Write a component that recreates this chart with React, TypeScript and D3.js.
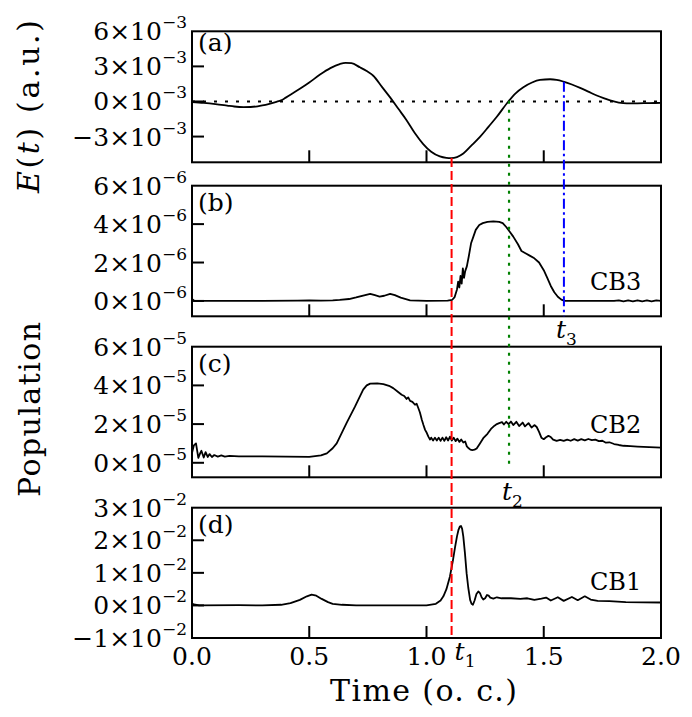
import React from "react";
import * as d3 from "d3";

// ---- data ----
const timeTicks = [0, 0.5, 1.0, 1.5, 2.0];
const timeTickLabels = ["0.0", "0.5", "1.0", "1.5", "2.0"];

const fieldTicks = [-3, 0, 3, 6]; // x10^-3
const cb3Ticks = [0, 2, 4, 6]; // x10^-6
const cb2Ticks = [0, 2, 4, 6]; // x10^-5
const cb1Ticks = [-1, 0, 1, 2, 3]; // x10^-2

// E(t) in units of 1e-3 a.u.
const field: [number, number][] = [
  [0, -0.05], [0.05, -0.12], [0.1, -0.22], [0.15, -0.35], [0.18, -0.43], [0.22, -0.48], [0.25, -0.47],
  [0.28, -0.41], [0.3, -0.34], [0.33, -0.2], [0.36, -0.03], [0.38, 0.1], [0.4, 0.33], [0.43, 0.7],
  [0.46, 1.08], [0.5, 1.62], [0.546, 2.3], [0.59, 2.85], [0.63, 3.2], [0.655, 3.3], [0.68, 3.27],
  [0.716, 2.92], [0.745, 2.6], [0.773, 2.2], [0.81, 1.25], [0.844, 0.37], [0.88, -0.63], [0.915, -1.6],
  [0.95, -2.7], [0.986, -3.64], [1.02, -4.3], [1.057, -4.7], [1.085, -4.82], [1.105, -4.84],
  [1.13, -4.75], [1.157, -4.45], [1.19, -3.8], [1.228, -3.03], [1.265, -2.15], [1.299, -1.33],
  [1.349, 0], [1.38, 0.7], [1.413, 1.22], [1.45, 1.62], [1.484, 1.84], [1.527, 1.9], [1.555, 1.85],
  [1.584, 1.7], [1.62, 1.45], [1.655, 1.16], [1.69, 0.84], [1.726, 0.51], [1.755, 0.28], [1.783, 0.085],
  [1.82, -0.1], [1.854, -0.17], [1.9, -0.16], [1.95, -0.14], [2.0, -0.12],
];

// CB3 population in units of 1e-6
const cb3: [number, number][] = [
  [0, 0.02], [0.005, 0.06], [0.01, 0.0], [0.3, 0.0], [0.45, 0.02], [0.5, 0.03], [0.55, 0.02], [0.6, 0.03],
  [0.63, 0.05], [0.67, 0.1], [0.7, 0.18], [0.73, 0.28], [0.76, 0.37], [0.78, 0.3], [0.8, 0.23],
  [0.82, 0.27], [0.845, 0.37], [0.865, 0.3], [0.89, 0.17], [0.93, 0.03], [1.0, 0.0], [1.09, 0.02],
  [1.11, 0.06], [1.12, 0.2], [1.13, 0.6], [1.135, 1.0], [1.14, 0.7], [1.145, 1.3], [1.15, 0.9],
  [1.155, 1.7], [1.16, 1.2], [1.165, 1.55], [1.172, 1.8], [1.18, 2.3], [1.19, 3.0], [1.2, 3.35],
  [1.21, 3.7], [1.225, 3.95], [1.24, 4.05], [1.26, 4.12], [1.285, 4.14], [1.31, 4.12], [1.325, 4.05],
  [1.34, 3.85], [1.355, 3.6], [1.37, 3.35], [1.39, 2.95], [1.405, 2.6], [1.42, 2.5], [1.44, 2.36],
  [1.46, 2.22], [1.48, 2.0], [1.5, 1.6], [1.515, 1.2], [1.53, 0.78], [1.545, 0.45], [1.56, 0.22],
  [1.575, 0.07], [1.59, 0.0], [1.8, 0.0], [1.82, 0.03], [1.84, -0.02], [1.86, 0.03], [1.88, -0.02],
  [1.9, 0.03], [1.92, -0.02], [1.94, 0.03], [1.96, -0.02], [1.98, 0.03], [2.0, 0.0],
];

// CB2 population in units of 1e-5
const cb2: [number, number][] = [
  [0, 0.5], [0.008, 0.9], [0.017, 1.0], [0.027, 0.25], [0.035, 0.5], [0.04, 0.62], [0.05, 0.27],
  [0.058, 0.55], [0.067, 0.3], [0.075, 0.45], [0.085, 0.3], [0.095, 0.4], [0.11, 0.32], [0.125, 0.38],
  [0.14, 0.32], [0.16, 0.36], [0.2, 0.33], [0.3, 0.33], [0.4, 0.32], [0.5, 0.31], [0.55, 0.38],
  [0.575, 0.49], [0.6, 0.75], [0.617, 1.0], [0.631, 1.35], [0.66, 2.08], [0.695, 2.9], [0.73, 3.78],
  [0.745, 4.0], [0.76, 4.09], [0.79, 4.1], [0.816, 4.07], [0.84, 3.98], [0.858, 3.86], [0.875, 3.7],
  [0.894, 3.52], [0.905, 3.45], [0.915, 3.3], [0.922, 3.38], [0.93, 3.2], [0.94, 3.15], [0.951, 3.0],
  [0.958, 3.05], [0.965, 2.83], [0.972, 2.6], [0.98, 2.22], [0.987, 1.95], [0.994, 1.7], [1.001, 1.55],
  [1.008, 1.35], [1.015, 1.2], [1.02, 1.3], [1.028, 1.15], [1.036, 1.3], [1.044, 1.15], [1.052, 1.3],
  [1.06, 1.13], [1.068, 1.3], [1.076, 1.13], [1.084, 1.32], [1.092, 1.15], [1.1, 1.35], [1.108, 1.15],
  [1.116, 1.3], [1.124, 1.12], [1.132, 1.25], [1.14, 1.08], [1.148, 1.2], [1.157, 1.05], [1.165, 1.1],
  [1.172, 0.85], [1.18, 0.75], [1.187, 0.68], [1.195, 0.66], [1.205, 0.68], [1.214, 0.74],
  [1.228, 1.0], [1.242, 1.27], [1.26, 1.5], [1.275, 1.75], [1.29, 1.92], [1.3, 2.0], [1.31, 2.05],
  [1.322, 2.1], [1.33, 1.98], [1.34, 2.12], [1.35, 2.0], [1.36, 2.13], [1.37, 1.95], [1.383, 2.12],
  [1.395, 1.9], [1.41, 2.08], [1.42, 1.88], [1.435, 2.05], [1.448, 1.82], [1.46, 1.95], [1.47, 1.85],
  [1.48, 1.6], [1.49, 1.3], [1.5, 1.22], [1.51, 1.32], [1.52, 1.39], [1.53, 1.33], [1.54, 1.2],
  [1.555, 1.13], [1.57, 1.18], [1.585, 1.13], [1.6, 1.2], [1.615, 1.14], [1.63, 1.22], [1.645, 1.15],
  [1.66, 1.22], [1.675, 1.16], [1.69, 1.23], [1.705, 1.17], [1.72, 1.2], [1.735, 1.12], [1.75, 1.14],
  [1.765, 1.04], [1.78, 1.06], [1.8, 0.97], [1.82, 0.92], [1.84, 0.88], [1.87, 0.86], [1.9, 0.84],
  [1.95, 0.81], [2.0, 0.78],
];

// CB1 population in units of 1e-2
const cb1: [number, number][] = [
  [0, 0.05], [0.01, 0.03], [0.03, 0.0], [0.2, 0.01], [0.3, 0.0], [0.38, 0.02], [0.42, 0.07],
  [0.46, 0.17], [0.49, 0.28], [0.51, 0.33], [0.53, 0.3], [0.553, 0.2], [0.58, 0.1], [0.6, 0.05],
  [0.64, 0.02], [0.7, 0.0], [1.0, 0.0], [1.04, 0.05], [1.06, 0.15], [1.072, 0.28], [1.085, 0.5],
  [1.1, 0.89], [1.112, 1.35], [1.122, 1.8], [1.13, 2.12], [1.136, 2.31], [1.142, 2.42], [1.147, 2.44],
  [1.152, 2.35], [1.157, 2.11], [1.164, 1.6], [1.171, 0.99], [1.178, 0.55], [1.186, 0.17],
  [1.192, 0.05], [1.198, 0.02], [1.205, 0.15], [1.213, 0.35], [1.221, 0.43], [1.228, 0.38],
  [1.235, 0.25], [1.242, 0.18], [1.25, 0.22], [1.258, 0.32], [1.265, 0.3], [1.272, 0.24],
  [1.285, 0.21], [1.3, 0.25], [1.32, 0.22], [1.36, 0.22], [1.4, 0.2], [1.43, 0.22], [1.46, 0.17],
  [1.49, 0.21], [1.51, 0.24], [1.53, 0.15], [1.56, 0.25], [1.585, 0.14], [1.62, 0.26], [1.645, 0.16],
  [1.675, 0.28], [1.7, 0.18], [1.73, 0.14], [1.78, 0.13], [1.85, 0.1], [2.0, 0.09],
];

const markerT1 = 1.107;
const markerT2 = 1.352;
const markerT3 = 1.586;

const FONT = "'DejaVu Serif', serif";

type Panel = {
  key: string;
  top: number;
  bottom: number;
  domain: [number, number];
  ticks: number[];
  exp: string;
  data: [number, number][];
  tag: string;
  name?: string;
  nameY?: number;
  tagDy: number;
};

export default function App() {
  const x = d3.scaleLinear().domain([0, 2]).range([192, 661]);
  const panels: Panel[] = [
    { key: "a", top: 31.3, bottom: 162.3, domain: [-5.2, 6], ticks: fieldTicks, exp: "−3", data: field, tag: "(a)", tagDy: 20 },
    { key: "b", top: 185.7, bottom: 316.3, domain: [-0.8, 6], ticks: cb3Ticks, exp: "−6", data: cb3, tag: "(b)", name: "CB3", nameY: 290, tagDy: 25 },
    { key: "c", top: 346.7, bottom: 477.3, domain: [-0.75, 6], ticks: cb2Ticks, exp: "−5", data: cb2, tag: "(c)", name: "CB2", nameY: 433, tagDy: 25 },
    { key: "d", top: 507.7, bottom: 638, domain: [-1, 3], ticks: cb1Ticks, exp: "−2", data: cb1, tag: "(d)", name: "CB1", nameY: 590, tagDy: 25 },
  ];
  const ys = panels.map((p) => d3.scaleLinear().domain(p.domain).range([p.bottom, p.top]));
  const fmt = (v: number) => (v < 0 ? "−" + Math.abs(v) : String(v));
  const interp = (data: [number, number][], t: number) => {
    for (let i = 1; i < data.length; i++) {
      if (data[i][0] >= t) {
        const [t0, v0] = data[i - 1];
        const [t1, v1] = data[i];
        return v0 + ((v1 - v0) * (t - t0)) / (t1 - t0);
      }
    }
    return data[data.length - 1][1];
  };
  const x0 = x.range()[0];
  const x1 = x.range()[1];

  return (
    <svg width={692} height={717} style={{ display: "block", position: "absolute", left: 0, top: 0 }} fontFamily={FONT}>
      <rect width={692} height={717} fill="#fff" />
      <defs>
        {panels.map((p) => (
          <clipPath id={"clip-" + p.key} key={p.key}>
            <rect x={x0} y={p.top} width={x1 - x0} height={p.bottom - p.top} />
          </clipPath>
        ))}
      </defs>
      {panels.map((p, i) => {
        const y = ys[i];
        const line = d3
          .line<[number, number]>()
          .x((d) => x(d[0]))
          .y((d) => y(d[1]))
          .curve(p.key === "a" ? d3.curveMonotoneX : d3.curveLinear);
        return (
          <g key={p.key}>
            {p.key === "a" && (
              <line x1={x0} x2={x1} y1={y(0)} y2={y(0)} stroke="#000" strokeWidth={2} strokeDasharray="3,8" />
            )}
            <path d={line(p.data) || ""} fill="none" stroke="#000" strokeWidth={1.8} strokeLinejoin="round" clipPath={`url(#clip-${p.key})`} />
            {timeTicks.slice(1, -1).map((t) => (
              <line key={"xt" + t} x1={x(t)} x2={x(t)} y1={p.bottom} y2={p.bottom - 12} stroke="#000" strokeWidth={2} />
            ))}
            {p.ticks
              .filter((v) => v > p.domain[0] && v < p.domain[1])
              .map((v) => (
                <line key={"yt" + v} x1={x0} x2={x0 + 12} y1={y(v)} y2={y(v)} stroke="#000" strokeWidth={2} />
              ))}
            <rect x={x0} y={p.top} width={x1 - x0} height={p.bottom - p.top} fill="none" stroke="#000" strokeWidth={2} />
            {p.ticks.map((v) => (
              <text key={"yl" + v} x={187} y={y(v) + 9} textAnchor="end" fontSize={25} fill="#000">
                {fmt(v) + "×10"}
                <tspan dy={-12} fontSize={17}>
                  {p.exp}
                </tspan>
              </text>
            ))}
            <text x={198} y={p.top + p.tagDy} fontSize={25} fill="#000">
              {p.tag}
            </text>
            {p.name && (
              <text x={590} y={p.nameY} fontSize={24} fill="#000">
                {p.name}
              </text>
            )}
          </g>
        );
      })}

      {/* marker lines */}
      <line x1={x(markerT1)} x2={x(markerT1)} y1={ys[0](interp(field, markerT1))} y2={638} stroke="#ff0000" strokeWidth={2} strokeDasharray="9,4" />
      <line x1={x(markerT2)} x2={x(markerT2)} y1={ys[0](interp(field, markerT2))} y2={468} stroke="#008000" strokeWidth={2.2} strokeDasharray="3,6" />
      <line x1={x(markerT3)} x2={x(markerT3)} y1={ys[0](interp(field, markerT3))} y2={316.3} stroke="#0000ff" strokeWidth={2} strokeDasharray="10,3.5,2.5,3.5" />

      {/* marker labels */}
      <text x={x(markerT3) - 8} y={338} fontSize={25} fontStyle="italic" fill="#000">
        t<tspan dy={7} fontSize={17} fontStyle="normal">3</tspan>
      </text>
      <text x={x(markerT2) - 7} y={500} fontSize={25} fontStyle="italic" fill="#000">
        t<tspan dy={7} fontSize={17} fontStyle="normal">2</tspan>
      </text>
      <text x={x(markerT1) + 3} y={660} fontSize={25} fontStyle="italic" fill="#000">
        t<tspan dy={7} fontSize={17} fontStyle="normal">1</tspan>
      </text>

      {/* x tick labels */}
      {timeTicks.map((t, i) => (
        <text key={"xl" + t} x={x(t)} y={665} textAnchor="middle" fontSize={25} fill="#000">
          {timeTickLabels[i]}
        </text>
      ))}

      {/* axis titles */}
      <text x={330} y={701} fontSize={30} fill="#000" textLength={187} lengthAdjust="spacing">
        Time (o. c.)
      </text>
      <text transform="translate(39,193) rotate(-90)" fontSize={30} fill="#000" textLength={173} lengthAdjust="spacing">
        <tspan fontStyle="italic">E</tspan>(<tspan fontStyle="italic">t</tspan>)  (a.u.)
      </text>
      <text transform="translate(40,497) rotate(-90)" fontSize={30} fill="#000" textLength={175} lengthAdjust="spacing">
        Population
      </text>
    </svg>
  );
}
